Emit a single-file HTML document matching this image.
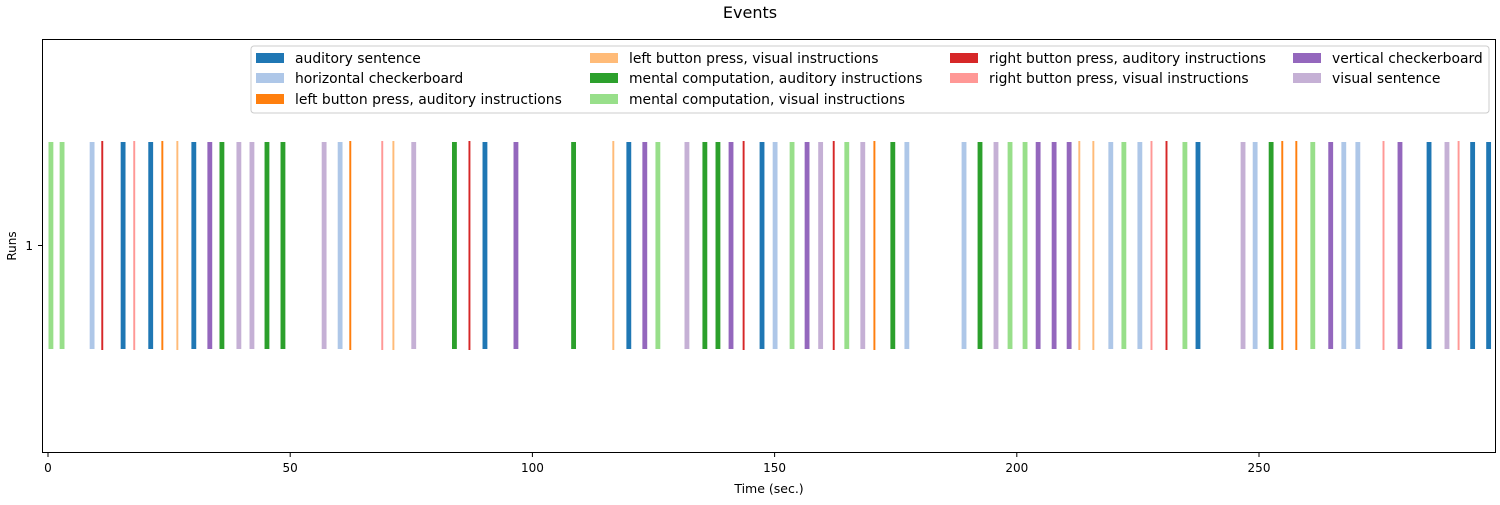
<!DOCTYPE html>
<html><head><meta charset="utf-8"><style>
body{margin:0;background:#fff;font-family:"Liberation Sans","DejaVu Sans",sans-serif}
svg text{font-family:"DejaVu Sans","Liberation Sans",sans-serif}
</style></head><body>
<svg id="chart" width="1500" height="500" xmlns="http://www.w3.org/2000/svg">
<text x="750" y="18" font-size="16" text-anchor="middle">Events</text>
<rect x="42.5" y="39.5" width="1453" height="413" fill="none" stroke="#000" stroke-width="1"/>
<g id="bars"></g>
<g id="xticks"></g>
<line x1="38" y1="245.5" x2="42" y2="245.5" stroke="#000"/>
<text x="33" y="250" font-size="12" text-anchor="end">1</text>
<text transform="translate(16,246) rotate(-90)" font-size="12" text-anchor="middle">Runs</text>
<text x="769" y="493" font-size="12.5" text-anchor="middle">Time (sec.)</text>
<g id="legend"></g>
</svg>
<script>
const conditions=["auditory sentence","horizontal checkerboard","left button press, auditory instructions","left button press, visual instructions","mental computation, auditory instructions","mental computation, visual instructions","right button press, auditory instructions","right button press, visual instructions","vertical checkerboard","visual sentence"];
const colors=["#1f77b4","#aec7e8","#ff7f0e","#ffbb78","#2ca02c","#98df8a","#d62728","#ff9896","#9467bd","#c5b0d5"];
const durations=[1,1,0.4,0.4,1,1,0.4,0.4,1,1];
// event onsets (s) and condition index
const onsets=[0,2.3,8.5,10.9,14.9,17.5,20.6,23.3,26.4,29.5,32.8,35.3,38.8,41.5,44.6,47.9,56.4,59.7,62.1,68.7,71.0,74.9,83.3,86.7,89.6,96.0,107.9,116.4,119.3,122.6,125.3,131.3,135.0,137.7,140.4,143.3,146.8,149.5,153.0,156.1,158.9,161.9,164.3,167.6,170.3,173.8,176.7,188.5,191.8,195.1,198.0,201.1,203.8,207.1,210.2,212.6,215.5,218.8,221.5,224.8,227.5,230.6,234.1,236.8,246.1,248.6,251.9,254.5,257.4,260.5,264.2,266.9,269.8,275.4,278.5,284.5,288.2,290.9,293.5,296.8];
const types=[5,5,1,6,0,7,0,2,3,0,8,4,9,9,4,4,9,1,2,7,3,9,4,6,0,8,4,3,0,8,5,9,4,4,8,6,0,1,5,8,9,6,5,9,2,4,1,1,4,9,5,5,8,8,8,3,3,1,5,1,7,6,5,0,9,1,4,2,2,5,8,1,1,7,8,0,9,7,0,0];
const xTicks=[0,50,100,150,200,250];
const NS="http://www.w3.org/2000/svg";
const x0=48,pxs=4.844;
const X=t=>x0+t*pxs;
const bars=document.getElementById('bars');
onsets.forEach((t,i)=>{
  const c=types[i];const r=document.createElementNS(NS,'rect');
  const thin=durations[c]<1;
  r.setAttribute('x',X(t)+0.5);
  r.setAttribute('width',Math.max(1.5,durations[c]*pxs));
  r.setAttribute('y',thin?141:142);
  r.setAttribute('height',thin?209:207);
  r.setAttribute('fill',colors[c]);
  
  
  bars.appendChild(r);
});
const xt=document.getElementById('xticks');
xTicks.forEach(v=>{
  const l=document.createElementNS(NS,'line');
  l.setAttribute('x1',X(v));l.setAttribute('x2',X(v));l.setAttribute('y1',453);l.setAttribute('y2',457);l.setAttribute('stroke','#000');
  
  
  xt.appendChild(l);
  const tx=document.createElementNS(NS,'text');
  tx.setAttribute('x',X(v));tx.setAttribute('y',472);tx.setAttribute('font-size','12');tx.setAttribute('text-anchor','middle');tx.textContent=v;
  
  
  xt.appendChild(tx);
});
const lg=document.getElementById('legend');
const box=document.createElementNS(NS,'rect');
box.setAttribute('x',251);box.setAttribute('y',46);box.setAttribute('width',1238);box.setAttribute('height',67);box.setAttribute('rx',3);box.setAttribute('fill','#fff');box.setAttribute('fill-opacity','0.8');box.setAttribute('stroke','#ccc');


lg.appendChild(box);
const colX=[256,590,950,1293],rowY=[58,78,99];
const colOf=[0,0,0,1,1,1,2,2,3,3],rowOf=[0,1,2,0,1,2,0,1,0,1];
conditions.forEach((n,i)=>{
  const col=colOf[i],row=rowOf[i];
  const p=document.createElementNS(NS,'rect');
  p.setAttribute('x',colX[col]);p.setAttribute('y',rowY[row]-5);p.setAttribute('width',28);p.setAttribute('height',10);p.setAttribute('fill',colors[i]);
  
  
  lg.appendChild(p);
  const t=document.createElementNS(NS,'text');
  t.setAttribute('x',colX[col]+39);t.setAttribute('y',rowY[row]+5);t.setAttribute('font-size','13.9');t.textContent=n;
  
  
  lg.appendChild(t);
});
</script>
</body></html>
